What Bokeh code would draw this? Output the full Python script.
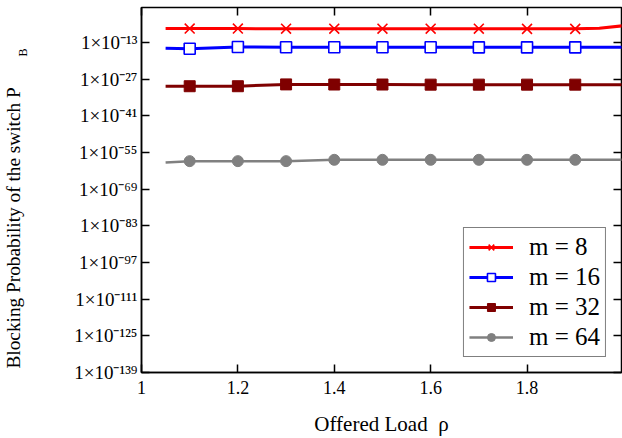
from bokeh.plotting import figure
from bokeh.models import (Range1d, FixedTicker, LinearAxis, LogAxis, Legend, LegendItem,
                          CustomJSTickFormatter, NumeralTickFormatter, Title)
from bokeh.embed import file_html
from bokeh.resources import INLINE

# ---- data ----
rho_line = [1.05, 1.1, 1.2, 1.3, 1.4, 1.5, 1.6, 1.7, 1.8, 1.9, 1.95, 2.0]
pb_m8 = [2.0e-8, 2.0e-8, 2.0e-8, 1.8e-8, 1.8e-8, 1.8e-8, 1.8e-8, 1.8e-8, 1.6e-8, 1.6e-8, 3.0e-8, 2.5e-7]
pb_m16 = [7e-16, 4e-16, 2e-15, 1.6e-15, 1.5e-15, 1.5e-15, 1.5e-15, 1.4e-15, 1.4e-15, 1.4e-15, 1.4e-15, 1.4e-15]
pb_m32 = [2e-30, 2e-30, 2e-30, 1e-29, 9e-30, 9e-30, 8e-30, 8e-30, 8e-30, 8e-30, 8e-30, 8e-30]
pb_m64 = [1.5e-59, 5e-59, 5e-59, 5e-59, 1.6e-58, 1.6e-58, 1.6e-58, 1.6e-58, 1.6e-58, 1.6e-58, 1.6e-58, 1.6e-58]
marker_slice = slice(1, 10)  # markers drawn at rho = 1.1 ... 1.9

series_labels = ["m = 8", "m = 16", "m = 32", "m = 64"]
series_colors = ["#ff0000", "#0000ff", "#7f0000", "#808080"]

x_ticks = [1.0, 1.2, 1.4, 1.6, 1.8]
y_tick_exps = [-139, -125, -111, -97, -83, -69, -55, -41, -27, -13]
y_tick_labels = ["1×10⁻¹³⁹", "1×10⁻¹²⁵", "1×10⁻¹¹¹", "1×10⁻⁹⁷", "1×10⁻⁸³",
                 "1×10⁻⁶⁹", "1×10⁻⁵⁵", "1×10⁻⁴¹", "1×10⁻²⁷", "1×10⁻¹³"]

x_title = "Offered Load\u00a0 ρ"
y_title = "Blocking Probability of the switch P"
y_title_sub = "B"

FONT = "Liberation Serif"

p = figure(width=622, height=438, output_backend="svg", toolbar_location=None,
           y_axis_type="log",
           x_range=Range1d(1.0, 1.996), y_range=Range1d(1e-139, 10 ** 0.36),
           min_border_left=141, min_border_right=1, min_border_top=7, min_border_bottom=66)
p.xgrid.visible = False
p.ygrid.visible = False
p.outline_line_color = "black"
p.outline_line_width = 1.5
p.background_fill_color = "white"
p.border_fill_color = "white"

yticker = FixedTicker(ticks=[10.0 ** e for e in y_tick_exps])
xticker = FixedTicker(ticks=x_ticks)
yfmt = CustomJSTickFormatter(args=dict(exps=y_tick_exps, labels=y_tick_labels), code="""
const e = Math.round(Math.log10(tick));
const i = exps.indexOf(e);
return i >= 0 ? labels[i] : "";
""")
blank = CustomJSTickFormatter(code="return '';")

for ax in p.xaxis:
    ax.ticker = xticker
    ax.formatter = NumeralTickFormatter(format="0.[0]")
    ax.axis_label = x_title
for ax in p.yaxis:
    ax.ticker = yticker
    ax.formatter = yfmt

for ax in list(p.xaxis) + list(p.yaxis):
    ax.major_tick_in = 8
    ax.major_tick_out = 0
    ax.minor_tick_in = 0
    ax.minor_tick_out = 0
    ax.axis_line_color = "black"
    ax.axis_line_width = 1.5
    ax.major_tick_line_color = "black"
    ax.major_tick_line_width = 1.5
    ax.major_label_text_font = FONT
    ax.major_label_text_font_size = "18px"
    ax.major_label_text_color = "black"
    ax.axis_label_text_font = FONT
    ax.axis_label_text_font_size = "21px"
    ax.axis_label_text_font_style = "normal"
    ax.axis_label_text_color = "black"

p.xaxis.major_label_standoff = 8
p.xaxis.axis_label_standoff = 15
p.yaxis.major_label_standoff = 4
p.yaxis.major_label_text_font_size = "19px"

top = LinearAxis(ticker=xticker, formatter=blank, major_tick_in=8, major_tick_out=0, minor_tick_in=0,
                 minor_tick_out=0, major_label_text_font_size="1px", major_label_standoff=0,
                 axis_line_color=None, major_tick_line_width=1.5)
right = LogAxis(ticker=yticker, formatter=blank, major_tick_in=8, major_tick_out=0, minor_tick_in=0,
                minor_tick_out=0, major_label_text_font_size="1px", major_label_standoff=0,
                axis_line_color=None, major_tick_line_width=1.5)
p.add_layout(top, "above")
p.add_layout(right, "right")

# y axis title: subscript part (first line of a 4-line box, so it sits on the outer side) and main part
p.add_layout(Title(text=y_title_sub + "\n\n\n", align="right", offset=41, standoff=0,
                   text_font=FONT, text_font_size="12px", text_font_style="normal",
                   text_color="black"), "left")
p.add_layout(Title(text=y_title, align="left", offset=4, standoff=-20,
                   text_font=FONT, text_font_size="19.3px", text_font_style="normal",
                   text_color="black"), "left")

rho_marks = rho_line[marker_slice]
items = []

l = p.line(rho_line, pb_m8, line_color=series_colors[0], line_width=3)
m = p.scatter(rho_marks, pb_m8[marker_slice], marker="x", size=14, line_color=series_colors[0], line_width=1.6)
items.append(LegendItem(label=series_labels[0], renderers=[l, m]))

l = p.line(rho_line, pb_m16, line_color=series_colors[1], line_width=3)
m = p.scatter(rho_marks, pb_m16[marker_slice], marker="square", size=11, line_color=series_colors[1],
              fill_color="white", line_width=1.6)
items.append(LegendItem(label=series_labels[1], renderers=[l, m]))

l = p.line(rho_line, pb_m32, line_color=series_colors[2], line_width=3)
m = p.scatter(rho_marks, pb_m32[marker_slice], marker="square", size=11, line_color=series_colors[2],
              fill_color=series_colors[2])
items.append(LegendItem(label=series_labels[2], renderers=[l, m]))

l = p.line(rho_line, pb_m64, line_color=series_colors[3], line_width=2.5)
m = p.scatter(rho_marks, pb_m64[marker_slice], marker="circle", size=11, line_color=series_colors[3],
              fill_color=series_colors[3])
items.append(LegendItem(label=series_labels[3], renderers=[l, m]))

legend = Legend(items=items, location="bottom_right", margin=15, padding=5, spacing=2,
                glyph_width=44, glyph_height=20, label_standoff=16,
                label_text_font=FONT, label_text_font_size="25px", label_text_color="black",
                border_line_color="black", border_line_width=1, background_fill_alpha=1)
p.add_layout(legend)

open("out.html", "w").write(file_html(p, INLINE))
